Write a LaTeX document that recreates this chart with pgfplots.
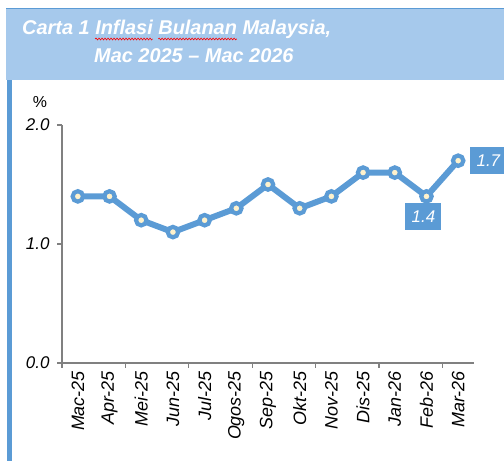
\documentclass[border=0pt]{standalone}
\usepackage{fontspec}
\setmainfont{Liberation Sans}
\usepackage{pgfplots}
\pgfplotsset{compat=1.18}
\usetikzlibrary{decorations.pathmorphing}
\definecolor{band}{RGB}{166,201,236}
\definecolor{lblue}{RGB}{91,155,213}
\definecolor{cream}{RGB}{255,242,204}
\definecolor{axgray}{RGB}{128,128,128}
\newlength\wA \newlength\wB \newlength\wC \newlength\wD
\newcommand\tfont{\fontsize{20}{24}\selectfont\bfseries\itshape}
\newcommand\lfont{\fontsize{17}{20}\selectfont\itshape}
\newcommand\xfont{\fontsize{18}{21}\selectfont\itshape}
\begin{document}
\settowidth\wA{\tfont Carta 1 }%
\settowidth\wB{\tfont Inflasi}%
\settowidth\wC{\tfont Inflasi }%
\settowidth\wD{\tfont Bulanan}%
\begin{tikzpicture}[x=1bp,y=1bp]
\useasboundingbox (0,0) rectangle (504,461);
\fill[band] (6,381) rectangle (504,452);
\draw[lblue, line width=1.2bp] (6,452.6) -- (504,452.6);
\fill[lblue] (7,0) rectangle (11.5,381);
\node[anchor=base west, inner sep=0, text=white, font=\tfont] at (22,426) {Carta 1 Inflasi Bulanan Malaysia,};
\node[anchor=base west, inner sep=0, text=white, font=\tfont] at (94,398) {Mac 2025 -- Mac 2026};
\draw[red, line width=0.6bp, decorate, decoration={snake, amplitude=0.9bp, segment length=3bp}] (22,422) ++(\wA,0) -- ++(\wB,0);
\draw[red, line width=0.6bp, decorate, decoration={snake, amplitude=0.9bp, segment length=3bp}] (22,422) ++(\wA,0) ++(\wC,0) -- ++(\wD,0);
\node[font=\fontsize{16}{18}\selectfont, text=black] at (40,359) {\%};
\begin{axis}[
  at={(62bp,98bp)}, anchor=south west,
  scale only axis, width=412bp, height=238bp,
  xmin=-0.5, xmax=12.5, ymin=0, ymax=2,
  clip=false,
  axis x line*=bottom, axis y line*=left,
  axis line style={draw=axgray, line width=1.3bp, -},
  tick style={draw=axgray, line width=1.3bp},
  tick align=outside, major tick length=5bp,
  ytick={0,1,2},
  /pgf/number format/assume math mode=true,
  yticklabel style={font=\lfont, xshift=-4bp, /pgf/number format/.cd, fixed, fixed zerofill, precision=1},
  xtick={-0.5,1.5,3.5,5.5,7.5,9.5,11.5},
  xticklabels={},
  extra x ticks={0,1,2,3,4,5,6,7,8,9,10,11,12},
  extra x tick labels={Mac-25,Apr-25,Mei-25,Jun-25,Jul-25,Ogos-25,Sep-25,Okt-25,Nov-25,Dis-25,Jan-26,Feb-26,Mar-26},
  extra x tick style={major tick length=0pt, xticklabel style={yshift=-8bp, rotate=90, anchor=east, font=\xfont, inner sep=0pt}},
]
\addplot[lblue, line width=6bp, mark=*, mark size=5.2bp, mark options={fill=cream, draw=lblue, line width=4.2bp}]
 coordinates {(0,1.4) (1,1.4) (2,1.2) (3,1.1) (4,1.2) (5,1.3) (6,1.5) (7,1.3) (8,1.4) (9,1.6) (10,1.6) (11,1.4) (12,1.7)};
\node[fill=lblue, text=white, font=\fontsize{17}{19}\selectfont\itshape, minimum width=36bp, minimum height=27bp, inner sep=0pt, xshift=-3bp, yshift=-20bp] at (axis cs:11,1.4) {1.4};
\node[fill=lblue, text=white, font=\fontsize{17}{19}\selectfont\itshape, minimum width=36bp, minimum height=27bp, inner sep=0pt, anchor=west, xshift=12bp] at (axis cs:12,1.7) {1.7};
\end{axis}
\end{tikzpicture}
\end{document}
